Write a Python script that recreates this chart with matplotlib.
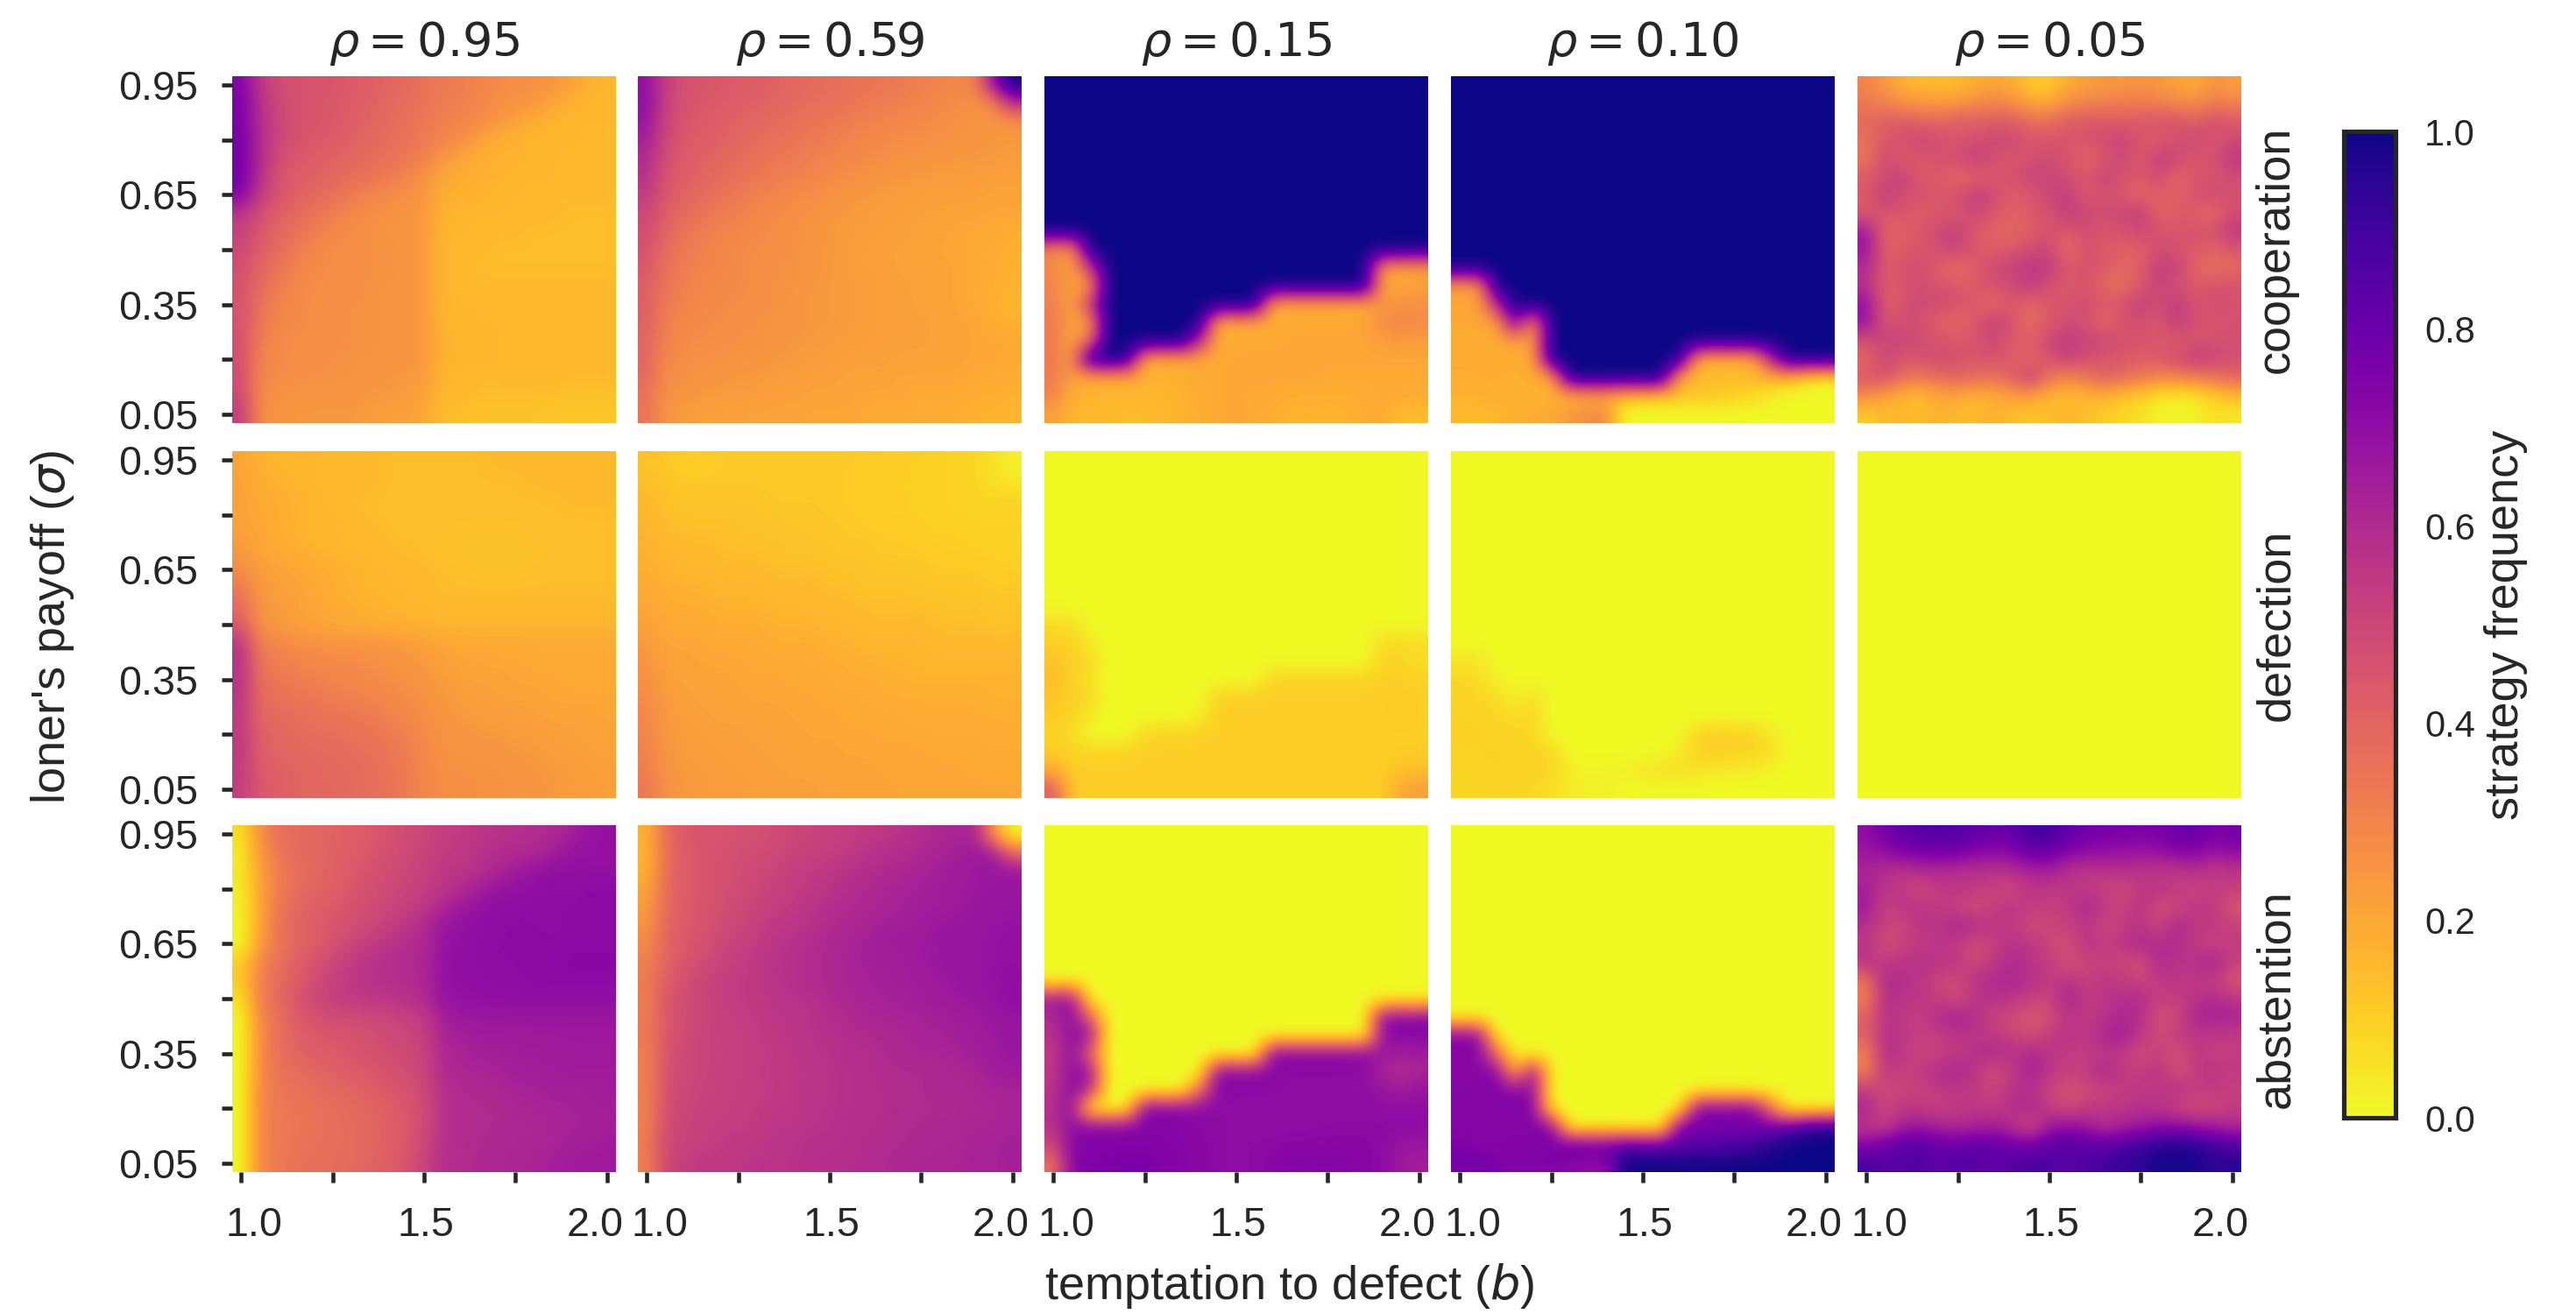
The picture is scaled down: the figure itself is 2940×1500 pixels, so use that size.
import matplotlib
matplotlib.use('Agg')
import matplotlib.pyplot as plt
from matplotlib.cm import ScalarMappable
from matplotlib.colors import Normalize
from matplotlib.transforms import ScaledTranslation
import numpy as np

plt.rcParams['font.family'] = ['Liberation Sans', 'DejaVu Sans']
INK = '#262626'

rhos = ['0.95', '0.59', '0.15', '0.10', '0.05']
strategies = ['cooperation', 'defection', 'abstention']
b_labels = ['1.0', '', '1.5', '', '2.0']
sigma_labels = ['0.95', '', '0.65', '', '0.35', '', '0.05']
cbar_ticks = [0.0, 0.2, 0.4, 0.6, 0.8, 1.0]

# frequencies in percent, top row is sigma=0.95, left column is b=1.0
coop_95 = [
    [74, 56, 48, 46, 45, 45, 43, 42, 40, 38, 36, 33, 32, 30, 28, 27, 26, 25, 22, 17, 16],
    [76, 58, 49, 46, 45, 44, 43, 41, 39, 37, 35, 32, 31, 29, 27, 26, 25, 21, 17, 16, 16],
    [76, 59, 50, 46, 45, 44, 42, 40, 38, 36, 34, 31, 30, 28, 25, 21, 18, 16, 16, 16, 16],
    [77, 60, 50, 46, 44, 43, 41, 39, 37, 35, 33, 30, 27, 22, 18, 17, 16, 16, 16, 15, 15],
    [77, 60, 48, 44, 42, 41, 39, 37, 36, 34, 31, 25, 21, 18, 17, 17, 16, 16, 15, 15, 15],
    [78, 58, 46, 42, 41, 39, 37, 36, 33, 30, 26, 20, 18, 17, 17, 16, 16, 16, 15, 15, 15],
    [74, 54, 45, 41, 39, 36, 33, 30, 28, 26, 25, 18, 17, 17, 16, 16, 15, 15, 15, 15, 15],
    [57, 47, 42, 38, 35, 32, 29, 27, 26, 25, 24, 17, 16, 16, 16, 15, 15, 15, 14, 14, 14],
    [52, 44, 39, 36, 32, 29, 27, 26, 25, 25, 24, 16, 16, 15, 15, 15, 14, 14, 14, 14, 14],
    [50, 42, 38, 33, 29, 27, 27, 26, 26, 25, 24, 16, 15, 15, 14, 14, 14, 14, 14, 14, 14],
    [47, 40, 35, 30, 28, 27, 27, 26, 26, 25, 24, 16, 15, 14, 14, 14, 14, 14, 14, 14, 14],
    [46, 38, 32, 29, 27, 27, 27, 26, 25, 25, 24, 16, 15, 15, 15, 15, 15, 15, 15, 15, 15],
    [46, 36, 30, 28, 27, 27, 26, 26, 25, 25, 24, 16, 16, 15, 15, 15, 15, 15, 15, 15, 15],
    [46, 34, 29, 28, 27, 27, 26, 26, 25, 25, 24, 16, 16, 16, 15, 15, 15, 15, 15, 15, 15],
    [47, 32, 28, 27, 27, 27, 26, 26, 25, 25, 24, 17, 16, 16, 16, 15, 15, 15, 15, 15, 15],
    [47, 30, 28, 27, 27, 26, 26, 25, 25, 25, 24, 17, 16, 16, 16, 15, 15, 15, 15, 15, 15],
    [48, 29, 27, 27, 26, 26, 25, 25, 24, 24, 23, 16, 15, 15, 15, 15, 15, 15, 15, 15, 15],
    [50, 28, 26, 25, 25, 25, 25, 24, 24, 23, 22, 15, 15, 14, 14, 14, 14, 14, 13, 13, 13],
    [54, 27, 25, 24, 24, 24, 24, 23, 22, 22, 20, 14, 14, 13, 13, 13, 13, 12, 12, 12, 12],
]
defect_95 = [
    [20, 17, 16, 16, 16, 15, 15, 15, 14, 14, 14, 14, 14, 14, 15, 15, 15, 15, 15, 15, 15],
    [21, 18, 17, 16, 16, 15, 15, 15, 14, 14, 14, 14, 14, 14, 14, 14, 15, 15, 15, 15, 15],
    [21, 19, 18, 17, 16, 15, 15, 14, 14, 14, 14, 14, 14, 14, 14, 14, 14, 14, 15, 15, 15],
    [21, 19, 18, 17, 16, 16, 15, 14, 14, 14, 14, 14, 14, 14, 14, 14, 14, 14, 14, 14, 14],
    [22, 20, 18, 17, 16, 16, 15, 15, 14, 14, 14, 14, 13, 13, 13, 13, 14, 14, 14, 14, 14],
    [24, 20, 19, 18, 17, 16, 16, 15, 15, 14, 14, 13, 13, 13, 13, 13, 13, 14, 14, 14, 14],
    [28, 23, 21, 20, 19, 18, 17, 16, 16, 15, 15, 14, 14, 13, 13, 13, 14, 14, 14, 14, 14],
    [33, 24, 22, 21, 19, 18, 17, 16, 16, 15, 15, 14, 14, 14, 14, 14, 14, 14, 14, 14, 14],
    [38, 25, 23, 22, 20, 19, 18, 17, 17, 16, 16, 15, 15, 15, 15, 15, 15, 15, 15, 15, 15],
    [44, 26, 24, 22, 21, 20, 19, 18, 18, 17, 17, 16, 16, 16, 16, 16, 16, 16, 16, 16, 16],
    [56, 31, 29, 27, 26, 25, 25, 25, 24, 23, 22, 20, 19, 19, 19, 19, 19, 19, 19, 19, 19],
    [58, 34, 32, 30, 29, 28, 28, 27, 26, 25, 24, 22, 21, 20, 20, 20, 19, 19, 19, 19, 19],
    [58, 36, 34, 32, 31, 30, 29, 28, 27, 26, 25, 23, 22, 21, 21, 20, 20, 20, 19, 19, 19],
    [56, 38, 36, 35, 34, 32, 31, 30, 29, 27, 26, 24, 23, 22, 22, 21, 21, 20, 20, 20, 20],
    [55, 39, 38, 37, 36, 35, 34, 33, 31, 29, 27, 25, 24, 23, 23, 22, 22, 21, 21, 21, 20],
    [55, 41, 39, 38, 37, 37, 36, 35, 33, 31, 28, 25, 25, 24, 24, 23, 23, 22, 22, 21, 21],
    [55, 42, 40, 39, 38, 38, 37, 36, 35, 32, 29, 26, 25, 25, 25, 24, 24, 23, 22, 22, 21],
    [54, 43, 41, 40, 39, 38, 38, 37, 35, 33, 29, 27, 26, 26, 25, 25, 24, 24, 23, 22, 22],
    [53, 44, 42, 40, 39, 39, 38, 37, 36, 33, 29, 27, 27, 26, 26, 25, 25, 24, 23, 23, 22],
]
coop_59 = [
    [70, 52, 46, 45, 44, 43, 42, 41, 39, 38, 37, 36, 35, 34, 33, 31, 30, 29, 30, 72, 100],
    [70, 52, 46, 44, 43, 42, 41, 40, 38, 37, 36, 35, 33, 32, 31, 30, 29, 27, 26, 30, 60],
    [68, 50, 45, 43, 42, 40, 39, 38, 36, 35, 34, 32, 31, 30, 29, 28, 27, 26, 25, 25, 25],
    [64, 49, 44, 42, 41, 39, 38, 36, 35, 33, 32, 30, 29, 28, 27, 27, 26, 25, 25, 24, 24],
    [60, 47, 43, 41, 39, 38, 36, 34, 33, 31, 30, 29, 28, 27, 26, 25, 25, 24, 24, 24, 23],
    [58, 45, 42, 40, 38, 36, 34, 32, 31, 30, 28, 27, 26, 25, 24, 24, 23, 23, 23, 22, 22],
    [54, 44, 40, 38, 35, 33, 31, 30, 28, 27, 26, 25, 24, 23, 23, 22, 22, 22, 22, 21, 21],
    [50, 42, 38, 35, 33, 31, 29, 28, 27, 26, 25, 24, 23, 23, 22, 22, 21, 21, 21, 20, 20],
    [48, 40, 35, 32, 30, 29, 28, 27, 26, 25, 24, 23, 23, 22, 22, 21, 21, 20, 19, 19, 18],
    [46, 37, 33, 31, 29, 28, 27, 27, 26, 25, 24, 23, 22, 22, 21, 21, 20, 20, 19, 19, 17],
    [44, 36, 32, 30, 29, 28, 27, 26, 26, 25, 24, 23, 22, 22, 21, 21, 21, 20, 19, 18, 17],
    [42, 35, 31, 29, 28, 28, 27, 26, 25, 24, 24, 23, 23, 22, 22, 21, 21, 20, 19, 18, 17],
    [42, 33, 30, 28, 28, 27, 27, 26, 25, 24, 24, 23, 23, 22, 22, 21, 21, 20, 19, 17, 16],
    [41, 31, 29, 28, 27, 27, 26, 25, 25, 24, 24, 23, 23, 22, 22, 22, 21, 21, 20, 18, 17],
    [40, 30, 28, 27, 27, 26, 26, 25, 24, 24, 23, 23, 22, 22, 22, 22, 21, 21, 20, 20, 19],
    [40, 29, 27, 26, 26, 25, 25, 24, 24, 23, 23, 22, 22, 22, 21, 21, 21, 21, 20, 20, 19],
    [38, 27, 26, 25, 25, 24, 24, 23, 23, 22, 22, 21, 21, 21, 20, 20, 20, 20, 19, 19, 18],
    [36, 26, 25, 24, 23, 23, 23, 22, 22, 21, 21, 21, 20, 20, 20, 19, 19, 19, 18, 18, 17],
    [35, 25, 23, 22, 22, 22, 21, 21, 21, 20, 20, 20, 19, 19, 19, 18, 18, 18, 17, 17, 16],
]
defect_59 = [
    [13, 11, 10, 10, 11, 11, 11, 11, 11, 11, 11, 11, 11, 10, 10, 10, 9, 9, 8, 5, 2],
    [14, 12, 11, 11, 11, 11, 11, 11, 11, 11, 11, 11, 10, 10, 10, 9, 9, 9, 8, 6, 3],
    [15, 13, 12, 12, 12, 12, 12, 11, 11, 11, 11, 11, 10, 10, 10, 9, 9, 9, 8, 8, 8],
    [16, 14, 13, 13, 13, 13, 12, 12, 12, 12, 11, 11, 11, 10, 10, 10, 9, 9, 9, 9, 9],
    [17, 15, 14, 14, 14, 13, 13, 13, 12, 12, 12, 11, 11, 11, 11, 10, 10, 10, 9, 9, 9],
    [17, 16, 15, 15, 14, 14, 14, 13, 13, 13, 12, 12, 12, 11, 11, 11, 10, 10, 10, 10, 9],
    [18, 17, 16, 16, 15, 15, 15, 14, 14, 14, 13, 13, 12, 12, 12, 12, 11, 11, 11, 10, 10],
    [19, 18, 17, 17, 16, 16, 16, 15, 15, 15, 14, 14, 13, 13, 13, 12, 12, 12, 12, 11, 11],
    [20, 18, 18, 18, 17, 17, 17, 16, 16, 15, 15, 15, 14, 14, 14, 14, 13, 13, 13, 12, 12],
    [22, 19, 19, 19, 18, 18, 18, 17, 17, 17, 16, 16, 15, 15, 15, 15, 14, 14, 14, 13, 13],
    [24, 20, 20, 20, 19, 19, 19, 18, 18, 18, 17, 17, 16, 16, 16, 16, 15, 15, 15, 15, 15],
    [25, 21, 21, 20, 20, 20, 19, 19, 19, 19, 18, 18, 17, 17, 17, 16, 16, 16, 16, 16, 16],
    [27, 22, 21, 21, 21, 20, 20, 20, 19, 19, 19, 18, 18, 18, 17, 17, 17, 17, 17, 17, 17],
    [28, 23, 22, 21, 21, 21, 20, 20, 20, 20, 19, 19, 19, 18, 18, 18, 18, 18, 18, 17, 17],
    [29, 24, 22, 22, 21, 21, 21, 21, 20, 20, 20, 19, 19, 19, 19, 18, 18, 18, 18, 18, 18],
    [30, 24, 23, 22, 22, 22, 21, 21, 21, 20, 20, 20, 20, 19, 19, 19, 19, 19, 19, 18, 18],
    [31, 25, 23, 23, 22, 22, 22, 21, 21, 21, 21, 20, 20, 20, 20, 20, 19, 19, 19, 19, 19],
    [32, 25, 24, 23, 23, 22, 22, 22, 21, 21, 21, 21, 21, 20, 20, 20, 20, 20, 19, 19, 19],
    [34, 26, 24, 23, 23, 23, 22, 22, 22, 22, 21, 21, 21, 21, 20, 20, 20, 20, 20, 20, 20],
]
coop_15 = [
    [100] * 21, [100] * 21, [100] * 21, [100] * 21, [100] * 21, [100] * 21, [100] * 21, [100] * 21, [100] * 21,
    [28, 22, 100, 100, 100, 100, 100, 100, 100, 100, 100, 100, 100, 100, 100, 100, 100, 100, 100, 100, 100],
    [30, 20, 55, 100, 100, 100, 100, 100, 100, 100, 100, 100, 100, 100, 100, 100, 100, 100, 22, 20, 20],
    [30, 20, 22, 100, 100, 100, 100, 100, 100, 100, 100, 100, 100, 100, 100, 100, 100, 100, 20, 20, 22],
    [32, 20, 55, 100, 100, 100, 100, 100, 100, 100, 100, 100, 18, 18, 18, 18, 18, 18, 24, 26, 26],
    [33, 20, 22, 100, 100, 100, 100, 100, 100, 17, 18, 18, 18, 19, 19, 19, 19, 20, 28, 30, 28],
    [33, 20, 35, 100, 100, 100, 100, 100, 60, 17, 19, 19, 19, 20, 20, 20, 20, 20, 22, 24, 22],
    [33, 22, 100, 100, 100, 17, 18, 18, 19, 19, 20, 20, 20, 20, 20, 20, 20, 20, 20, 20, 20],
    [33, 21, 18, 18, 18, 17, 17, 18, 19, 19, 20, 20, 20, 20, 20, 19, 19, 19, 19, 19, 19],
    [30, 17, 17, 16, 16, 16, 16, 17, 18, 19, 20, 19, 19, 18, 18, 18, 18, 18, 19, 19, 19],
    [22, 16, 15, 15, 14, 14, 16, 17, 18, 19, 20, 19, 18, 16, 17, 16, 17, 18, 19, 14, 14],
]
defect_15 = [
    [0] * 21, [0] * 21, [0] * 21, [0] * 21, [0] * 21, [0] * 21, [0] * 21, [0] * 21, [0] * 21,
    [7, 7, 0, 0, 0, 0, 0, 0, 0, 0, 0, 0, 0, 0, 0, 0, 0, 0, 0, 0, 0],
    [10, 9, 4, 0, 0, 0, 0, 0, 0, 0, 0, 0, 0, 0, 0, 0, 0, 0, 7, 8, 7],
    [13, 10, 8, 0, 0, 0, 0, 0, 0, 0, 0, 0, 0, 0, 0, 0, 0, 0, 9, 8, 6],
    [14, 10, 5, 0, 0, 0, 0, 0, 0, 0, 0, 0, 9, 9, 9, 9, 9, 9, 10, 10, 9],
    [12, 10, 8, 0, 0, 0, 0, 0, 0, 10, 10, 10, 10, 10, 10, 10, 10, 10, 10, 11, 10],
    [11, 9, 4, 0, 0, 0, 0, 0, 2, 10, 10, 10, 10, 10, 10, 10, 10, 10, 10, 11, 10],
    [9, 7, 0, 0, 0, 8, 9, 9, 10, 10, 10, 10, 10, 10, 10, 10, 10, 10, 10, 10, 10],
    [10, 9, 9, 9, 9, 10, 10, 10, 10, 10, 10, 10, 10, 10, 10, 10, 10, 10, 10, 10, 10],
    [20, 10, 10, 10, 10, 10, 10, 10, 10, 10, 10, 10, 10, 10, 10, 10, 10, 10, 10, 14, 14],
    [42, 11, 10, 10, 10, 10, 10, 10, 10, 10, 10, 10, 10, 10, 10, 10, 10, 10, 10, 20, 22],
]
coop_10 = [
    [100] * 21, [100] * 21, [100] * 21, [100] * 21, [100] * 21, [100] * 21, [100] * 21, [100] * 21, [100] * 21,
    [100] * 21, [100] * 21,
    [22, 22, 100, 100, 100, 100, 100, 100, 100, 100, 100, 100, 100, 100, 100, 100, 100, 100, 100, 100, 100],
    [20, 20, 60, 100, 100, 100, 100, 100, 100, 100, 100, 100, 100, 100, 100, 100, 100, 100, 100, 100, 100],
    [20, 20, 20, 80, 24, 100, 100, 100, 100, 100, 100, 100, 100, 100, 100, 100, 100, 100, 100, 100, 100],
    [18, 18, 18, 22, 20, 100, 100, 100, 100, 100, 100, 100, 100, 100, 100, 100, 100, 100, 100, 100, 100],
    [18, 18, 18, 18, 18, 100, 100, 100, 100, 100, 100, 100, 100, 17, 16, 16, 16, 60, 100, 100, 100],
    [18, 18, 18, 18, 18, 17, 100, 100, 100, 100, 100, 100, 18, 15, 15, 15, 16, 17, 16, 6, 3],
    [17, 18, 18, 17, 17, 17, 16, 17, 18, 13, 13, 12, 12, 12, 11, 10, 7, 3, 0, 0, 0],
    [15, 14, 16, 18, 18, 19, 24, 28, 28, 0, 0, 0, 0, 0, 0, 0, 0, 0, 0, 0, 0],
]
defect_10 = [
    [0] * 21, [0] * 21, [0] * 21, [0] * 21, [0] * 21, [0] * 21, [0] * 21, [0] * 21, [0] * 21,
    [0] * 21, [0] * 21,
    [5, 5, 0, 0, 0, 0, 0, 0, 0, 0, 0, 0, 0, 0, 0, 0, 0, 0, 0, 0, 0],
    [8, 7, 2, 0, 0, 0, 0, 0, 0, 0, 0, 0, 0, 0, 0, 0, 0, 0, 0, 0, 0],
    [9, 8, 7, 2, 7, 0, 0, 0, 0, 0, 0, 0, 0, 0, 0, 0, 0, 0, 0, 0, 0],
    [9, 9, 8, 7, 8, 0, 0, 0, 0, 0, 0, 0, 0, 0, 0, 0, 0, 0, 0, 0, 0],
    [9, 9, 9, 8, 8, 0, 0, 0, 0, 0, 0, 0, 0, 9, 10, 10, 9, 4, 0, 0, 0],
    [9, 9, 9, 9, 9, 9, 0, 0, 0, 0, 0, 0, 4, 9, 10, 9, 9, 6, 1, 0, 0],
    [8, 9, 9, 9, 9, 8, 3, 1, 2, 2, 5, 6, 6, 5, 4, 3, 3, 1, 0, 0, 0],
    [8, 8, 9, 8, 8, 6, 4, 2, 2, 0, 0, 0, 0, 0, 0, 0, 0, 0, 0, 0, 0],
]
coop_05 = [
    [30, 24, 17, 15, 14, 15, 18, 20, 18, 11, 11, 18, 22, 24, 24, 25, 24, 21, 19, 26, 22],
    [34, 30, 26, 24, 23, 24, 28, 30, 28, 20, 20, 28, 30, 31, 32, 33, 31, 28, 27, 32, 30],
    [38, 42, 44, 40, 40, 43, 42, 43, 42, 38, 36, 43, 44, 44, 42, 44, 46, 46, 42, 48, 44],
    [36, 44, 46, 52, 46, 44, 46, 50, 50, 44, 46, 44, 46, 48, 52, 44, 42, 46, 50, 44, 48],
    [34, 50, 42, 44, 46, 48, 54, 46, 44, 46, 48, 46, 38, 44, 50, 42, 54, 50, 44, 46, 56],
    [42, 48, 52, 42, 44, 38, 40, 44, 46, 52, 50, 48, 44, 52, 46, 44, 50, 38, 46, 44, 48],
    [44, 54, 48, 46, 44, 46, 54, 48, 42, 44, 50, 54, 42, 46, 44, 38, 42, 40, 46, 50, 46],
    [42, 46, 44, 42, 44, 44, 52, 44, 40, 44, 46, 54, 50, 48, 50, 54, 38, 44, 42, 36, 48],
    [66, 38, 42, 44, 50, 52, 42, 40, 38, 42, 46, 44, 48, 44, 46, 50, 46, 44, 46, 46, 56],
    [68, 40, 44, 44, 48, 52, 44, 42, 44, 48, 50, 36, 46, 44, 42, 40, 48, 46, 44, 40, 44],
    [60, 42, 46, 48, 40, 36, 42, 50, 52, 56, 54, 44, 46, 44, 38, 42, 54, 52, 38, 36, 38],
    [58, 42, 44, 48, 46, 44, 44, 46, 48, 54, 46, 42, 46, 38, 36, 44, 52, 46, 44, 46, 46],
    [70, 40, 46, 50, 48, 46, 42, 38, 44, 38, 44, 46, 48, 44, 46, 54, 46, 56, 44, 48, 46],
    [68, 44, 48, 46, 40, 38, 44, 54, 46, 36, 44, 48, 46, 38, 46, 46, 44, 54, 46, 44, 46],
    [46, 52, 50, 48, 46, 44, 46, 50, 42, 42, 50, 54, 52, 50, 46, 46, 44, 42, 46, 46, 48],
    [38, 50, 44, 46, 48, 46, 44, 46, 42, 38, 46, 52, 46, 44, 44, 42, 44, 48, 54, 50, 46],
    [44, 48, 36, 34, 38, 40, 38, 36, 42, 54, 34, 30, 34, 42, 38, 34, 30, 30, 32, 36, 40],
    [28, 20, 16, 14, 20, 20, 16, 18, 22, 22, 16, 14, 16, 18, 12, 10, 4, 3, 4, 10, 14],
    [10, 16, 15, 14, 18, 14, 15, 18, 14, 12, 14, 16, 14, 10, 8, 6, 1, 1, 2, 6, 4],
]
defect_05 = [[0] * 21] * 19

coop = [coop_95, coop_59, coop_15, coop_10, coop_05]
defect = [defect_95, defect_59, defect_15, defect_10, defect_05]

fig = plt.figure(figsize=(9.8, 5), dpi=300)
W, H = 2940.0, 1500.0


def px_axes(x0, y0, x1, y1):
    return fig.add_axes([x0 / W, 1 - y1 / H, (x1 - x0) / W, (y1 - y0) / H])


col_x = [265, 728, 1192, 1656, 2120]
row_y = [87, 515, 942]

for r in range(3):
    for c in range(5):
        C = np.array(coop[c], dtype=float) / 100
        D = np.array(defect[c], dtype=float) / 100
        # the three strategies add up to one
        A = np.clip(1 - C - D, 0, 1)
        data = [C, D, A][r]

        ax = px_axes(col_x[c], row_y[r], col_x[c] + 438, row_y[r] + 396)
        ax.imshow(data, cmap='plasma_r', vmin=0, vmax=1, aspect='auto', interpolation='bicubic')
        for pos in ['top', 'right', 'bottom', 'left']:
            ax.spines[pos].set_visible(False)
        ax.tick_params(length=2.8, width=1.1, color=INK, labelcolor=INK, labelsize=11.2, pad=6.5)

        if c == 0:
            ax.set_yticks(range(0, 19, 3))
            ax.set_yticklabels(sigma_labels)
        else:
            ax.set_yticks([])
        if r == 2:
            ax.set_xticks(range(0, 21, 5))
            ax.set_xticklabels(b_labels)
            # end labels sit a little inside the ticks in the original
            shifts = [3.4, 0, 0.5, 0, -3.2]
            for lab, s in zip(ax.get_xticklabels(), shifts):
                lab.set_transform(lab.get_transform() + ScaledTranslation(s / 72, 0, fig.dpi_scale_trans))
        else:
            ax.set_xticks([])
        if r == 0:
            ax.set_title(r'$\rho = ' + rhos[c] + '$', fontsize=13, color=INK, pad=5.5)

for r in range(3):
    fig.text(2598 / W, 1 - (row_y[r] + 198) / H, strategies[r], rotation=90,
             ha='center', va='center', fontsize=13, color=INK)

fig.text(1472 / W, 1 - 1468 / H, r'temptation to defect ($b$)', ha='center', va='center', fontsize=13, color=INK)
fig.text(60 / W, 1 - 716 / H, r"loner's payoff ($\sigma$)", rotation=90, ha='center', va='center', fontsize=13, color=INK)

cax = px_axes(2675, 150, 2734, 1276)
cb = fig.colorbar(ScalarMappable(Normalize(0, 1), 'plasma_r'), cax=cax)
cb.set_ticks(cbar_ticks)
cb.ax.tick_params(length=0, labelsize=10, labelcolor=INK, pad=8)
cb.outline.set_edgecolor(INK)
cb.outline.set_linewidth(1.25)
fig.text(2860 / W, 1 - 713 / H, 'strategy frequency', rotation=90, ha='center', va='center', fontsize=13, color=INK)

plt.savefig('out.png', dpi=300)
